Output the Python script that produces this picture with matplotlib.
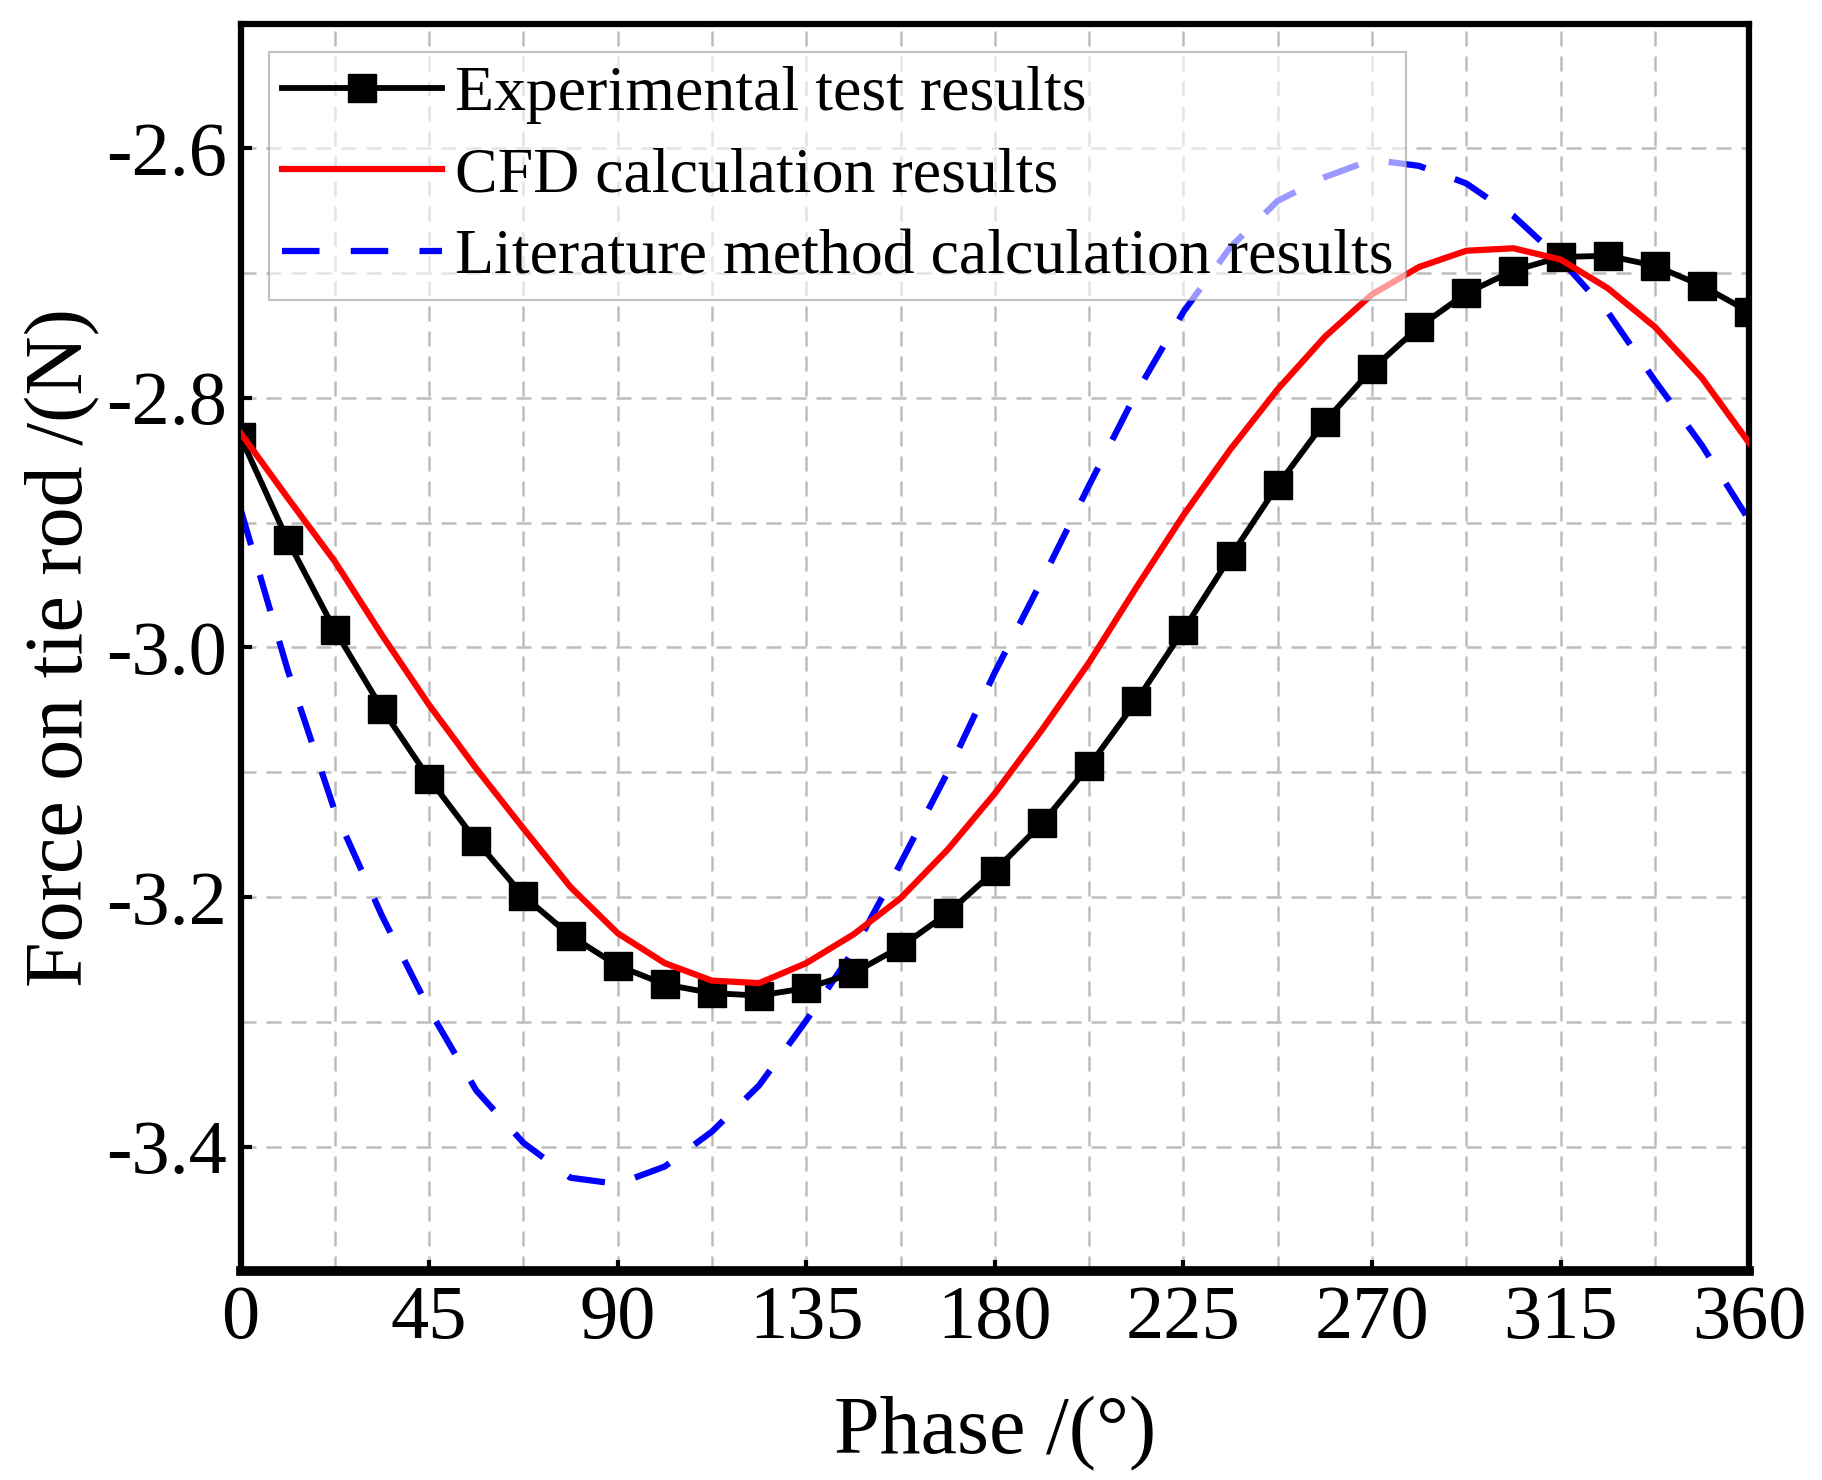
import numpy as np
import matplotlib.pyplot as plt
from matplotlib.ticker import MultipleLocator

plt.rcParams['font.family'] = ['Liberation Serif', 'DejaVu Serif']

# phase (deg) shared by all three series
phase = [0, 11.25, 22.5, 33.75, 45, 56.25, 67.5, 78.75, 90, 101.25, 112.5,
         123.75, 135, 146.25, 157.5, 168.75, 180, 191.25, 202.5, 213.75, 225,
         236.25, 247.5, 258.75, 270, 281.25, 292.5, 303.75, 315, 326.25,
         337.5, 348.75, 360]

experimental = [-2.831, -2.914, -2.986, -3.049, -3.105, -3.155, -3.199, -3.231,
                -3.255, -3.270, -3.277, -3.279, -3.273, -3.261, -3.240, -3.213,
                -3.179, -3.141, -3.095, -3.043, -2.986, -2.927, -2.870, -2.819,
                -2.777, -2.743, -2.716, -2.698, -2.687, -2.686, -2.694, -2.710,
                -2.731]

cfd = [-2.828, -2.880, -2.931, -2.990, -3.046, -3.097, -3.145, -3.192, -3.229,
       -3.253, -3.267, -3.269, -3.253, -3.230, -3.201, -3.162, -3.117, -3.066,
       -3.012, -2.952, -2.894, -2.841, -2.793, -2.751, -2.717, -2.695, -2.682,
       -2.680, -2.689, -2.712, -2.743, -2.784, -2.836]

literature = [-2.889, -3.018, -3.131, -3.215, -3.290, -3.355, -3.397, -3.425,
              -3.430, -3.416, -3.388, -3.351, -3.299, -3.243, -3.173, -3.100,
              -3.020, -2.946, -2.870, -2.796, -2.731, -2.679, -2.642, -2.623,
              -2.609, -2.614, -2.628, -2.654, -2.689, -2.731, -2.786, -2.838,
              -2.898]

fig = plt.figure(figsize=(18.22, 14.8), dpi=100)
ax = fig.add_axes([0.132, 0.141, 0.828, 0.843])

ax.plot(phase, experimental, color='black', lw=4.2, marker='s', ms=20,
        label='Experimental test results', zorder=3)
ax.plot(phase, cfd, color='red', lw=4.5, label='CFD calculation results',
        zorder=4, solid_joinstyle='round')
ax.plot(phase, literature, color='blue', lw=4.5, dashes=(6, 5),
        label='Literature method calculation results', zorder=2,
        dash_joinstyle='round')

ax.set_xlim(0, 360)
ax.set_ylim(-3.5, -2.5)
ax.xaxis.set_major_locator(MultipleLocator(45))
ax.xaxis.set_minor_locator(MultipleLocator(22.5))
ax.yaxis.set_minor_locator(MultipleLocator(0.1))
ax.set_yticks([-2.6, -2.8, -3.0, -3.2, -3.4])
ax.set_yticklabels(['-2.6', '-2.8', '-3.0', '-3.2', '-3.4'])

ax.grid(True, which='both', color='#bdbdbd', linestyle=(0, (6, 4)), lw=1.8)
ax.set_axisbelow(True)

ax.tick_params(which='major', direction='in', length=8, width=3, labelsize=55,
               pad=10)
ax.tick_params(which='minor', length=0)
for side in ['left', 'right', 'top']:
    ax.spines[side].set_linewidth(4.5)
ax.spines['bottom'].set_linewidth(7)

ax.set_xlabel('Phase /(°)', fontsize=59, labelpad=30)
ax.set_ylabel('Force on tie rod /(N)', fontsize=59, labelpad=4)

leg = ax.legend(loc='upper left', fontsize=46, frameon=True, fancybox=False,
                framealpha=0.6, edgecolor='#999999', handlelength=2.5,
                handletextpad=0.2, labelspacing=0.36, borderpad=0.2,
                borderaxespad=0.45)
leg.get_frame().set_linewidth(1.5)
leg.set_zorder(5)

fig.savefig('out.png', dpi=100)
